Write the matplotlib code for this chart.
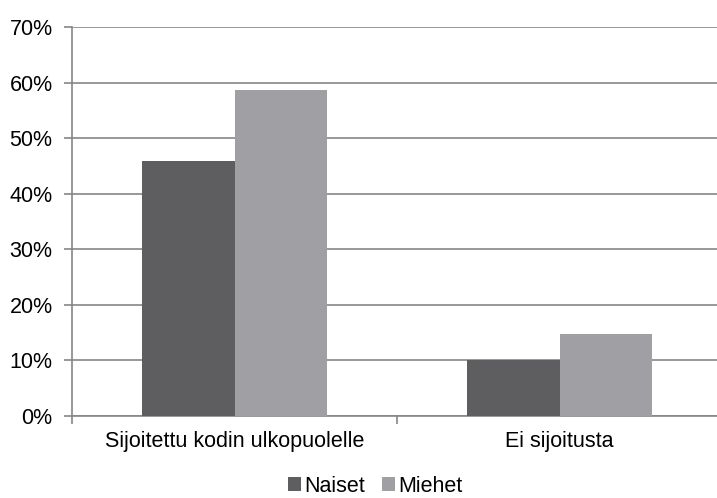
import matplotlib.pyplot as plt
import numpy as np
from matplotlib.ticker import PercentFormatter

categories = ['Sijoitettu kodin ulkopuolelle', 'Ei sijoitusta']
naiset = [45.8, 10.0]
miehet = [58.7, 14.8]
series_names = ['Naiset', 'Miehet']

plt.rcParams['font.family'] = ['Liberation Sans', 'DejaVu Sans']
fs = 15.5

fig = plt.figure(figsize=(7.17, 4.98), dpi=100)
ax = fig.add_axes([72 / 717, (498 - 416) / 498, 650 / 717, 389 / 498])

x = np.arange(len(categories))
w = 0.285
ax.bar(x - w / 2, naiset, w, color='#5e5e60', label=series_names[0], zorder=3)
ax.bar(x + w / 2, miehet, w, color='#a0a0a4', label=series_names[1], zorder=3)

ax.set_xlim(-0.5, len(categories) - 0.5)
ax.set_ylim(0, 70)
ax.set_yticks(np.arange(0, 71, 10))
ax.yaxis.set_major_formatter(PercentFormatter(decimals=0))
ax.grid(axis='y', color='#868686', linewidth=1.2, zorder=0)

# category labels in the middle, ticks on the boundaries
ax.set_xticks(x)
ax.set_xticklabels(categories)
ax.set_xticks(np.arange(-0.5, len(categories)), minor=True)
ax.tick_params(axis='x', which='major', length=0, pad=11, labelsize=fs)
ax.tick_params(axis='x', which='minor', length=6, color='#868686', width=1.2)
ax.tick_params(axis='y', length=6, color='#868686', width=1.2, labelsize=fs, pad=8)

for s in ['top', 'right']:
    ax.spines[s].set_visible(False)
for s in ['left', 'bottom']:
    ax.spines[s].set_color('#868686')
    ax.spines[s].set_linewidth(1.2)

fig.legend(loc='lower center', bbox_to_anchor=(0.523, -0.036), ncol=2, frameon=False,
           fontsize=fs, handlelength=0.6, handleheight=0.6, handletextpad=0.15,
           columnspacing=0.8)

fig.savefig('out.png', dpi=100)
